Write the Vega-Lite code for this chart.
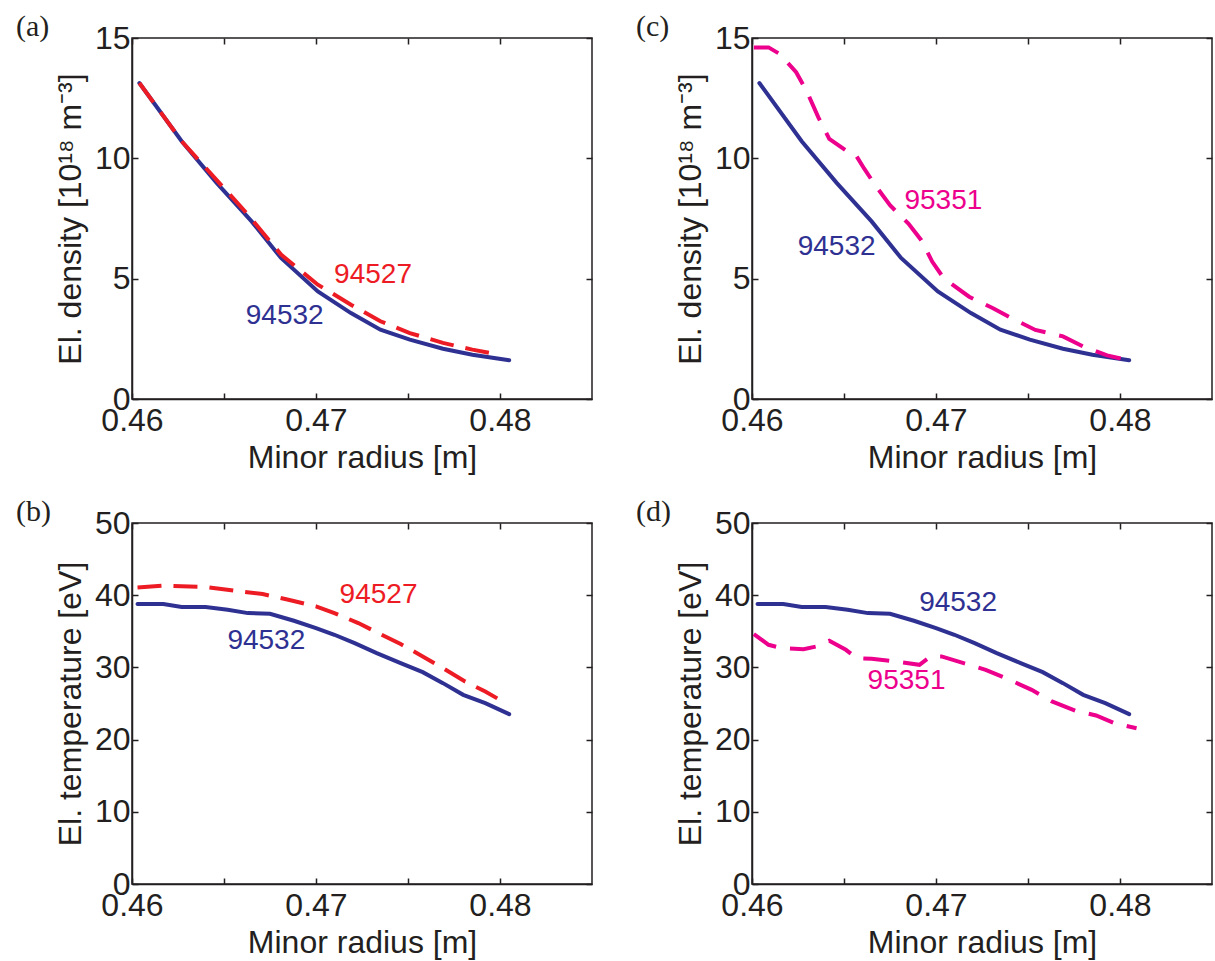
{
  "$schema": "https://vega.github.io/schema/vega-lite/v6.json",
  "background": "white",
  "padding": {"left": 15, "top": 11, "right": 2, "bottom": 5},
  "config": {
    "view": {"stroke": "#231f20", "strokeWidth": 1.5},
    "axis": {
      "grid": false,
      "minExtent": 0,
      "domainColor": "#231f20",
      "domainWidth": 1.5,
      "tickColor": "#231f20",
      "tickWidth": 1.5,
      "tickSize": -6,
      "labelFont": "Liberation Sans",
      "labelFontSize": 32,
      "labelColor": "#231f20",
      "labelFlush": false,
      "labelOverlap": false,
      "labelPadding": 8,
      "titleFont": "Liberation Sans",
      "titleFontSize": 32,
      "titleFontWeight": "normal",
      "titleColor": "#231f20"
    },
    "axisBottom": {"labelPadding": 12, "titlePadding": 6},
    "axisLeft": {"titlePadding": 7},
    "title": {"font": "Liberation Serif", "fontSize": 30, "fontWeight": "normal", "color": "#231f20", "anchor": "start", "frame": "group", "baseline": "alphabetic", "offset": 2, "dx": -116, "dy": 22}
  },
  "datasets": {
    "lines": [
      {"qty": "density", "shot": "94532", "r": 0.4604, "v": 13.13},
      {"qty": "density", "shot": "94532", "r": 0.4627, "v": 10.71},
      {"qty": "density", "shot": "94532", "r": 0.4646, "v": 8.98},
      {"qty": "density", "shot": "94532", "r": 0.4665, "v": 7.38},
      {"qty": "density", "shot": "94532", "r": 0.4681, "v": 5.86},
      {"qty": "density", "shot": "94532", "r": 0.4701, "v": 4.47},
      {"qty": "density", "shot": "94532", "r": 0.4719, "v": 3.57},
      {"qty": "density", "shot": "94532", "r": 0.4735, "v": 2.88},
      {"qty": "density", "shot": "94532", "r": 0.4751, "v": 2.47},
      {"qty": "density", "shot": "94532", "r": 0.4769, "v": 2.09},
      {"qty": "density", "shot": "94532", "r": 0.4785, "v": 1.84},
      {"qty": "density", "shot": "94532", "r": 0.4805, "v": 1.61},

      {"qty": "density", "shot": "94527", "r": 0.4604, "v": 13.13},
      {"qty": "density", "shot": "94527", "r": 0.4627, "v": 10.71},
      {"qty": "density", "shot": "94527", "r": 0.4663, "v": 7.66},
      {"qty": "density", "shot": "94527", "r": 0.4681, "v": 6.0},
      {"qty": "density", "shot": "94527", "r": 0.4701, "v": 4.75},
      {"qty": "density", "shot": "94527", "r": 0.4719, "v": 3.92},
      {"qty": "density", "shot": "94527", "r": 0.4735, "v": 3.23},
      {"qty": "density", "shot": "94527", "r": 0.4751, "v": 2.74},
      {"qty": "density", "shot": "94527", "r": 0.4769, "v": 2.33},
      {"qty": "density", "shot": "94527", "r": 0.4785, "v": 2.05},
      {"qty": "density", "shot": "94527", "r": 0.4800, "v": 1.84},

      {"qty": "density", "shot": "95351", "r": 0.4601, "v": 14.61},
      {"qty": "density", "shot": "95351", "r": 0.4609, "v": 14.61},
      {"qty": "density", "shot": "95351", "r": 0.4615, "v": 14.34},
      {"qty": "density", "shot": "95351", "r": 0.4624, "v": 13.58},
      {"qty": "density", "shot": "95351", "r": 0.4630, "v": 12.75},
      {"qty": "density", "shot": "95351", "r": 0.4636, "v": 11.71},
      {"qty": "density", "shot": "95351", "r": 0.4642, "v": 10.81},
      {"qty": "density", "shot": "95351", "r": 0.4651, "v": 10.33},
      {"qty": "density", "shot": "95351", "r": 0.4656, "v": 10.19},
      {"qty": "density", "shot": "95351", "r": 0.4661, "v": 9.57},
      {"qty": "density", "shot": "95351", "r": 0.4667, "v": 8.88},
      {"qty": "density", "shot": "95351", "r": 0.4675, "v": 8.05},
      {"qty": "density", "shot": "95351", "r": 0.4685, "v": 7.29},
      {"qty": "density", "shot": "95351", "r": 0.4692, "v": 6.60},
      {"qty": "density", "shot": "95351", "r": 0.4698, "v": 5.70},
      {"qty": "density", "shot": "95351", "r": 0.4703, "v": 5.15},
      {"qty": "density", "shot": "95351", "r": 0.4708, "v": 4.81},
      {"qty": "density", "shot": "95351", "r": 0.4718, "v": 4.25},
      {"qty": "density", "shot": "95351", "r": 0.4731, "v": 3.77},
      {"qty": "density", "shot": "95351", "r": 0.4741, "v": 3.36},
      {"qty": "density", "shot": "95351", "r": 0.4754, "v": 2.87},
      {"qty": "density", "shot": "95351", "r": 0.4769, "v": 2.60},
      {"qty": "density", "shot": "95351", "r": 0.4780, "v": 2.18},
      {"qty": "density", "shot": "95351", "r": 0.4793, "v": 1.81},
      {"qty": "density", "shot": "95351", "r": 0.4806, "v": 1.59},

      {"qty": "temperature", "shot": "94532", "r": 0.4603, "v": 38.77},
      {"qty": "temperature", "shot": "94532", "r": 0.4617, "v": 38.77},
      {"qty": "temperature", "shot": "94532", "r": 0.4627, "v": 38.36},
      {"qty": "temperature", "shot": "94532", "r": 0.4640, "v": 38.36},
      {"qty": "temperature", "shot": "94532", "r": 0.4652, "v": 37.99},
      {"qty": "temperature", "shot": "94532", "r": 0.4663, "v": 37.52},
      {"qty": "temperature", "shot": "94532", "r": 0.4675, "v": 37.43},
      {"qty": "temperature", "shot": "94532", "r": 0.4688, "v": 36.46},
      {"qty": "temperature", "shot": "94532", "r": 0.4700, "v": 35.44},
      {"qty": "temperature", "shot": "94532", "r": 0.4710, "v": 34.52},
      {"qty": "temperature", "shot": "94532", "r": 0.4721, "v": 33.36},
      {"qty": "temperature", "shot": "94532", "r": 0.4733, "v": 31.98},
      {"qty": "temperature", "shot": "94532", "r": 0.4746, "v": 30.59},
      {"qty": "temperature", "shot": "94532", "r": 0.4758, "v": 29.34},
      {"qty": "temperature", "shot": "94532", "r": 0.4769, "v": 27.82},
      {"qty": "temperature", "shot": "94532", "r": 0.4780, "v": 26.20},
      {"qty": "temperature", "shot": "94532", "r": 0.4792, "v": 25.05},
      {"qty": "temperature", "shot": "94532", "r": 0.4805, "v": 23.52},

      {"qty": "temperature", "shot": "94527", "r": 0.4603, "v": 41.08},
      {"qty": "temperature", "shot": "94527", "r": 0.4617, "v": 41.31},
      {"qty": "temperature", "shot": "94527", "r": 0.4640, "v": 41.13},
      {"qty": "temperature", "shot": "94527", "r": 0.4656, "v": 40.62},
      {"qty": "temperature", "shot": "94527", "r": 0.4671, "v": 40.16},
      {"qty": "temperature", "shot": "94527", "r": 0.4685, "v": 39.37},
      {"qty": "temperature", "shot": "94527", "r": 0.4700, "v": 38.45},
      {"qty": "temperature", "shot": "94527", "r": 0.4710, "v": 37.52},
      {"qty": "temperature", "shot": "94527", "r": 0.4723, "v": 36.14},
      {"qty": "temperature", "shot": "94527", "r": 0.4735, "v": 34.61},
      {"qty": "temperature", "shot": "94527", "r": 0.4746, "v": 33.23},
      {"qty": "temperature", "shot": "94527", "r": 0.4758, "v": 31.52},
      {"qty": "temperature", "shot": "94527", "r": 0.4769, "v": 29.90},
      {"qty": "temperature", "shot": "94527", "r": 0.4781, "v": 28.05},
      {"qty": "temperature", "shot": "94527", "r": 0.4792, "v": 26.66},
      {"qty": "temperature", "shot": "94527", "r": 0.4804, "v": 24.91},

      {"qty": "temperature", "shot": "95351", "r": 0.4601, "v": 34.61},
      {"qty": "temperature", "shot": "95351", "r": 0.4609, "v": 33.13},
      {"qty": "temperature", "shot": "95351", "r": 0.4616, "v": 32.67},
      {"qty": "temperature", "shot": "95351", "r": 0.4628, "v": 32.53},
      {"qty": "temperature", "shot": "95351", "r": 0.4635, "v": 32.90},
      {"qty": "temperature", "shot": "95351", "r": 0.4642, "v": 33.69},
      {"qty": "temperature", "shot": "95351", "r": 0.4651, "v": 32.44},
      {"qty": "temperature", "shot": "95351", "r": 0.4657, "v": 31.28},
      {"qty": "temperature", "shot": "95351", "r": 0.4665, "v": 31.19},
      {"qty": "temperature", "shot": "95351", "r": 0.4678, "v": 30.82},
      {"qty": "temperature", "shot": "95351", "r": 0.4691, "v": 30.36},
      {"qty": "temperature", "shot": "95351", "r": 0.4697, "v": 31.52},
      {"qty": "temperature", "shot": "95351", "r": 0.4703, "v": 31.52},
      {"qty": "temperature", "shot": "95351", "r": 0.4715, "v": 30.59},
      {"qty": "temperature", "shot": "95351", "r": 0.4727, "v": 29.67},
      {"qty": "temperature", "shot": "95351", "r": 0.4740, "v": 28.28},
      {"qty": "temperature", "shot": "95351", "r": 0.4752, "v": 26.89},
      {"qty": "temperature", "shot": "95351", "r": 0.4763, "v": 25.28},
      {"qty": "temperature", "shot": "95351", "r": 0.4776, "v": 23.98},
      {"qty": "temperature", "shot": "95351", "r": 0.4787, "v": 23.34},
      {"qty": "temperature", "shot": "95351", "r": 0.4797, "v": 22.27},
      {"qty": "temperature", "shot": "95351", "r": 0.4809, "v": 21.58}
    ],
    "labels": [
      {"panel": "a", "shot": "94527", "r": 0.4731, "v": 5.17},
      {"panel": "a", "shot": "94532", "r": 0.4683, "v": 3.43},
      {"panel": "c", "shot": "95351", "r": 0.4704, "v": 8.22},
      {"panel": "c", "shot": "94532", "r": 0.4646, "v": 6.33},
      {"panel": "b", "shot": "94527", "r": 0.4734, "v": 40.06},
      {"panel": "b", "shot": "94532", "r": 0.4673, "v": 33.6},
      {"panel": "d", "shot": "94532", "r": 0.4712, "v": 38.91},
      {"panel": "d", "shot": "95351", "r": 0.4684, "v": 28.05}
    ]
  },
  "columns": 2,
  "spacing": {"row": 124, "column": 160},
  "bounds": "flush",
  "concat": [
    {
      "width": 460, "height": 361,
      "title": {"text": "(a)"},
      "resolve": {"axis": {"x": "independent", "y": "independent"}},
      "layer": [
        {
          "data": {"name": "lines"},
          "transform": [{"filter": "datum.qty == 'density' && datum.shot == '94532'"}],
          "mark": {"type": "line", "color": "#2e3192", "strokeWidth": 4, "strokeCap": "round"},
          "encoding": {
            "x": {"field": "r", "type": "quantitative", "scale": {"domain": [0.46, 0.485], "nice": false, "zero": false}, "axis": {"orient": "bottom", "values": [0.46, 0.465, 0.47, 0.475, 0.48], "labelExpr": "round(datum.value*1000) % 10 == 0 ? format(datum.value, '.2f') : ''", "title": "Minor radius [m]"}},
            "y": {"field": "v", "type": "quantitative", "scale": {"domain": [0, 15], "nice": false}, "axis": {"orient": "left", "values": [0, 5, 10, 15], "title": "El. density [10¹⁸ m⁻³]"}},
            "order": {"field": "r"}
          }
        },
        {
          "data": {"name": "lines"},
          "transform": [{"filter": "datum.qty == 'density' && datum.shot == '94527'"}],
          "mark": {"type": "line", "color": "#ed1c24", "strokeWidth": 4, "strokeDash": [24, 12]},
          "encoding": {
            "x": {"field": "r", "type": "quantitative", "axis": {"orient": "top", "values": [0.46, 0.465, 0.47, 0.475, 0.48], "labels": false, "domain": false, "title": null, "labelPadding": 0}},
            "y": {"field": "v", "type": "quantitative", "axis": {"orient": "right", "values": [0, 5, 10, 15], "labels": false, "domain": false, "title": null, "labelPadding": 0}},
            "order": {"field": "r"}
          }
        },
        {
          "data": {"name": "labels"},
          "transform": [{"filter": "datum.panel == 'a'"}],
          "mark": {"type": "text", "font": "Liberation Sans", "fontSize": 28, "align": "center", "baseline": "middle"},
          "encoding": {
            "x": {"field": "r", "type": "quantitative", "axis": null},
            "y": {"field": "v", "type": "quantitative", "axis": null},
            "text": {"field": "shot"},
            "color": {"field": "shot", "type": "nominal", "scale": {"domain": ["94532", "94527", "95351"], "range": ["#2e3192", "#ed1c24", "#ec008c"]}, "legend": null}
          }
        }
      ]
    },
    {
      "width": 460, "height": 361,
      "title": {"text": "(c)"},
      "resolve": {"axis": {"x": "independent", "y": "independent"}},
      "layer": [
        {
          "data": {"name": "lines"},
          "transform": [{"filter": "datum.qty == 'density' && datum.shot == '94532'"}],
          "mark": {"type": "line", "color": "#2e3192", "strokeWidth": 4, "strokeCap": "round"},
          "encoding": {
            "x": {"field": "r", "type": "quantitative", "scale": {"domain": [0.46, 0.485], "nice": false, "zero": false}, "axis": {"orient": "bottom", "values": [0.46, 0.465, 0.47, 0.475, 0.48], "labelExpr": "round(datum.value*1000) % 10 == 0 ? format(datum.value, '.2f') : ''", "title": "Minor radius [m]"}},
            "y": {"field": "v", "type": "quantitative", "scale": {"domain": [0, 15], "nice": false}, "axis": {"orient": "left", "values": [0, 5, 10, 15], "title": "El. density [10¹⁸ m⁻³]"}},
            "order": {"field": "r"}
          }
        },
        {
          "data": {"name": "lines"},
          "transform": [{"filter": "datum.qty == 'density' && datum.shot == '95351'"}],
          "mark": {"type": "line", "color": "#ec008c", "strokeWidth": 4, "strokeDash": [26, 14]},
          "encoding": {
            "x": {"field": "r", "type": "quantitative", "axis": {"orient": "top", "values": [0.46, 0.465, 0.47, 0.475, 0.48], "labels": false, "domain": false, "title": null, "labelPadding": 0}},
            "y": {"field": "v", "type": "quantitative", "axis": {"orient": "right", "values": [0, 5, 10, 15], "labels": false, "domain": false, "title": null, "labelPadding": 0}},
            "order": {"field": "r"}
          }
        },
        {
          "data": {"name": "labels"},
          "transform": [{"filter": "datum.panel == 'c'"}],
          "mark": {"type": "text", "font": "Liberation Sans", "fontSize": 28, "align": "center", "baseline": "middle"},
          "encoding": {
            "x": {"field": "r", "type": "quantitative", "axis": null},
            "y": {"field": "v", "type": "quantitative", "axis": null},
            "text": {"field": "shot"},
            "color": {"field": "shot", "type": "nominal", "scale": {"domain": ["94532", "94527", "95351"], "range": ["#2e3192", "#ed1c24", "#ec008c"]}, "legend": null}
          }
        }
      ]
    },
    {
      "width": 460, "height": 361,
      "title": {"text": "(b)"},
      "resolve": {"axis": {"x": "independent", "y": "independent"}},
      "layer": [
        {
          "data": {"name": "lines"},
          "transform": [{"filter": "datum.qty == 'temperature' && datum.shot == '94532'"}],
          "mark": {"type": "line", "color": "#2e3192", "strokeWidth": 4, "strokeCap": "round"},
          "encoding": {
            "x": {"field": "r", "type": "quantitative", "scale": {"domain": [0.46, 0.485], "nice": false, "zero": false}, "axis": {"orient": "bottom", "values": [0.46, 0.465, 0.47, 0.475, 0.48], "labelExpr": "round(datum.value*1000) % 10 == 0 ? format(datum.value, '.2f') : ''", "title": "Minor radius [m]"}},
            "y": {"field": "v", "type": "quantitative", "scale": {"domain": [0, 50], "nice": false}, "axis": {"orient": "left", "values": [0, 10, 20, 30, 40, 50], "title": "El. temperature [eV]"}},
            "order": {"field": "r"}
          }
        },
        {
          "data": {"name": "lines"},
          "transform": [{"filter": "datum.qty == 'temperature' && datum.shot == '94527'"}],
          "mark": {"type": "line", "color": "#ed1c24", "strokeWidth": 4, "strokeDash": [24, 12]},
          "encoding": {
            "x": {"field": "r", "type": "quantitative", "axis": {"orient": "top", "values": [0.46, 0.465, 0.47, 0.475, 0.48], "labels": false, "domain": false, "title": null, "labelPadding": 0}},
            "y": {"field": "v", "type": "quantitative", "axis": {"orient": "right", "values": [0, 10, 20, 30, 40, 50], "labels": false, "domain": false, "title": null, "labelPadding": 0}},
            "order": {"field": "r"}
          }
        },
        {
          "data": {"name": "labels"},
          "transform": [{"filter": "datum.panel == 'b'"}],
          "mark": {"type": "text", "font": "Liberation Sans", "fontSize": 28, "align": "center", "baseline": "middle"},
          "encoding": {
            "x": {"field": "r", "type": "quantitative", "axis": null},
            "y": {"field": "v", "type": "quantitative", "axis": null},
            "text": {"field": "shot"},
            "color": {"field": "shot", "type": "nominal", "scale": {"domain": ["94532", "94527", "95351"], "range": ["#2e3192", "#ed1c24", "#ec008c"]}, "legend": null}
          }
        }
      ]
    },
    {
      "width": 460, "height": 361,
      "title": {"text": "(d)"},
      "resolve": {"axis": {"x": "independent", "y": "independent"}},
      "layer": [
        {
          "data": {"name": "lines"},
          "transform": [{"filter": "datum.qty == 'temperature' && datum.shot == '94532'"}],
          "mark": {"type": "line", "color": "#2e3192", "strokeWidth": 4, "strokeCap": "round"},
          "encoding": {
            "x": {"field": "r", "type": "quantitative", "scale": {"domain": [0.46, 0.485], "nice": false, "zero": false}, "axis": {"orient": "bottom", "values": [0.46, 0.465, 0.47, 0.475, 0.48], "labelExpr": "round(datum.value*1000) % 10 == 0 ? format(datum.value, '.2f') : ''", "title": "Minor radius [m]"}},
            "y": {"field": "v", "type": "quantitative", "scale": {"domain": [0, 50], "nice": false}, "axis": {"orient": "left", "values": [0, 10, 20, 30, 40, 50], "title": "El. temperature [eV]"}},
            "order": {"field": "r"}
          }
        },
        {
          "data": {"name": "lines"},
          "transform": [{"filter": "datum.qty == 'temperature' && datum.shot == '95351'"}],
          "mark": {"type": "line", "color": "#ec008c", "strokeWidth": 4, "strokeDash": [26, 14]},
          "encoding": {
            "x": {"field": "r", "type": "quantitative", "axis": {"orient": "top", "values": [0.46, 0.465, 0.47, 0.475, 0.48], "labels": false, "domain": false, "title": null, "labelPadding": 0}},
            "y": {"field": "v", "type": "quantitative", "axis": {"orient": "right", "values": [0, 10, 20, 30, 40, 50], "labels": false, "domain": false, "title": null, "labelPadding": 0}},
            "order": {"field": "r"}
          }
        },
        {
          "data": {"name": "labels"},
          "transform": [{"filter": "datum.panel == 'd'"}],
          "mark": {"type": "text", "font": "Liberation Sans", "fontSize": 28, "align": "center", "baseline": "middle"},
          "encoding": {
            "x": {"field": "r", "type": "quantitative", "axis": null},
            "y": {"field": "v", "type": "quantitative", "axis": null},
            "text": {"field": "shot"},
            "color": {"field": "shot", "type": "nominal", "scale": {"domain": ["94532", "94527", "95351"], "range": ["#2e3192", "#ed1c24", "#ec008c"]}, "legend": null}
          }
        }
      ]
    }
  ]
}
